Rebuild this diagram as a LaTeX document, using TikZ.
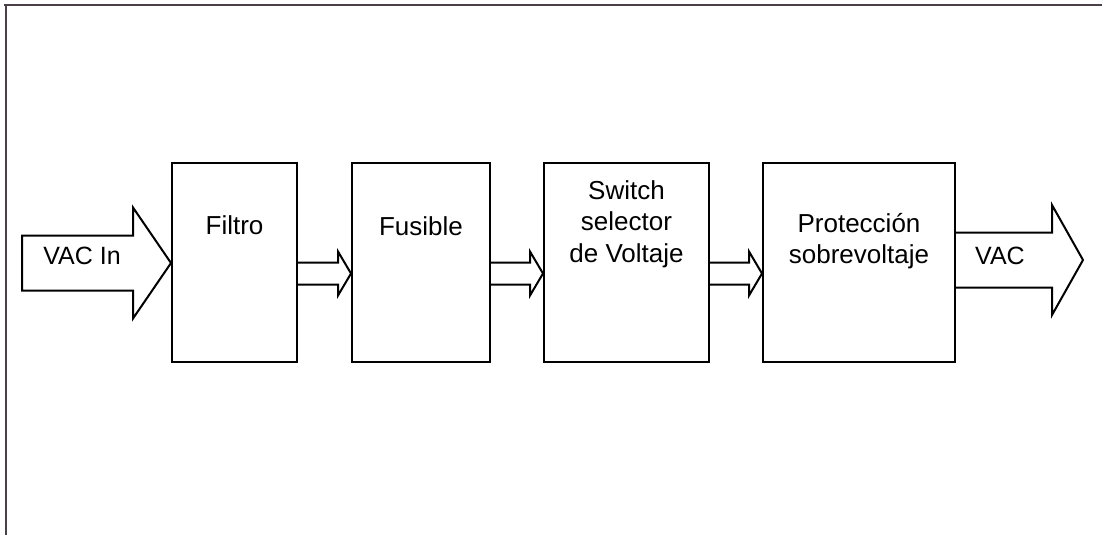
\documentclass[tikz,border=0pt]{standalone}
\usepackage{fontspec}
\setmainfont{Liberation Sans}
\usetikzlibrary{calc,positioning}

\begin{document}
\begin{tikzpicture}[x=1pt, y=-1pt,
    bloque/.style = {draw, line width=2pt, minimum height=199pt, inner sep=0pt},
    texto/.style = {font=\fontsize{26}{31.5}\selectfont, align=center, inner sep=0pt},
    flecha/.style = {draw, line width=2pt, line join=miter}]
    \useasboundingbox (0,0) rectangle (1102,535);
    % marco
    \path[draw, line width=2.5pt, color={rgb,255:red,74;green,64;blue,72}](4,5)to(1102,5);
    \path[draw, line width=2.5pt, color={rgb,255:red,74;green,64;blue,72}](6,5)to(6,535);
    % bloques
    \node[bloque, minimum width=125pt](filtro)at(234.5,262.5){};
    \node[bloque, minimum width=138pt](fusible)at(421,262.5){};
    \node[bloque, minimum width=165pt](switch)at(626.5,262.5){};
    \node[bloque, minimum width=192pt](proteccion)at(859,262.5){};
    % textos
    \node[texto](tFiltro)at($(filtro.north)+(0,63)$){Filtro};
    \node[texto](tFusible)at($(fusible.north)+(0,64)$){Fusible};
    \node[texto](tSwitch)at($(switch.north)+(0,62)$){Switch\\selector\\de Voltaje};
    \node[texto](tProteccion)at($(proteccion.north)+(0,79)$){Protección\\sobrevoltaje};
    % entrada
    \coordinate(entrada)at(22,263);
    \coordinate(puntaIn)at($(filtro.west)+(0,0.5)$);
    \path[flecha]($(entrada)+(0,-27.5)$)--($(puntaIn)+(-38,-27.5)$)--($(puntaIn)+(-38,-55.5)$)
        --(puntaIn)--($(puntaIn)+(-38,55.5)$)--($(puntaIn)+(-38,27.5)$)--($(entrada)+(0,27.5)$)--cycle;
    \node[texto, font=\fontsize{25}{30}\selectfont](tIn)at(82,256){VAC In};
    % flechas entre bloques
    \foreach \a/\b in {filtro/fusible, switch/proteccion, fusible/switch}{
        \coordinate(p)at($(\a.east)+(0,11)$);
        \coordinate(q)at($(\b.west)+(0,11)$);
        \path[flecha]($(p)+(0,-11)$)--($(q)+(-13,-11)$)--($(q)+(-13,-22)$)
            --(q)--($(q)+(-13,22)$)--($(q)+(-13,11)$)--($(p)+(0,11)$);
    }
    % salida
    \coordinate(salida)at($(proteccion.east)+(0,-2.5)$);
    \coordinate(puntaOut)at(1083,260);
    \path[flecha]($(salida)+(0,-27.5)$)--($(puntaOut)+(-31,-27.5)$)--($(puntaOut)+(-31,-55)$)
        --(puntaOut)--($(puntaOut)+(-31,55)$)--($(puntaOut)+(-31,27.5)$)--($(salida)+(0,27.5)$);
    \node[texto, font=\fontsize{25}{30}\selectfont](tOut)at(1000,256){VAC};
\end{tikzpicture}
\end{document}
